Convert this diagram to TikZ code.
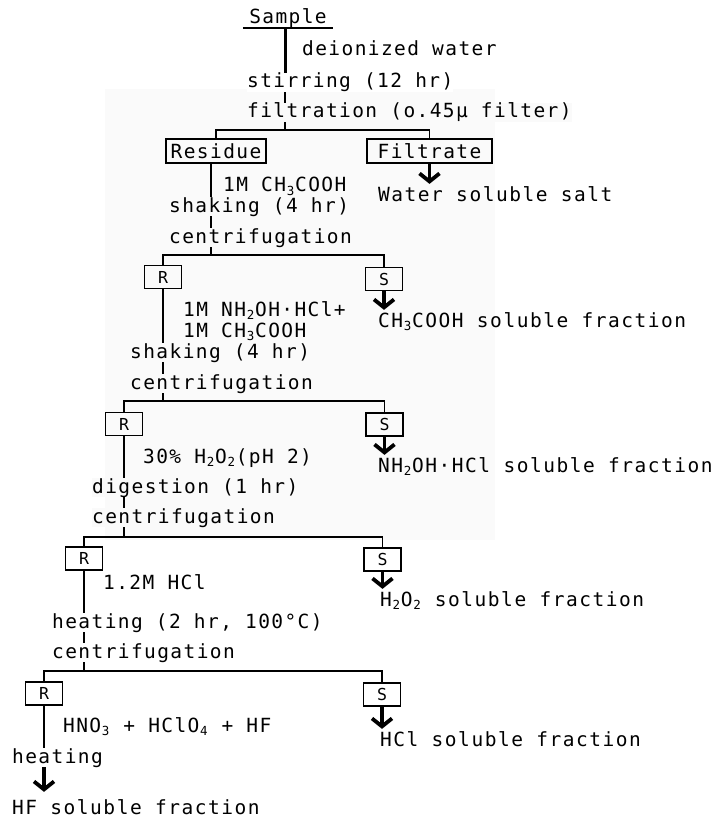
\documentclass[tikz,border=0pt]{standalone}
\usepackage{fontspec}
\usetikzlibrary{arrows.meta}
\newfontfamily\monoA{DejaVu Sans Mono}[LetterSpace=7.2]
\newfontfamily\monoB{DejaVu Sans Mono}[LetterSpace=7.8]
\definecolor{bgg}{gray}{0.982}
\newcommand\sbs[1]{\makebox[9pt][c]{\raisebox{-3.5pt}{\fontsize{12.5}{12.5}\selectfont #1}}}
\newcommand\ftA{\monoA\fontsize{19.5}{21}\selectfont}
\newcommand\ftB{\monoB\fontsize{19.5}{21}\selectfont}
\newcommand\ftS{\monoA\fontsize{16.5}{16.5}\selectfont}
\pgfdeclarelayer{back}
\pgfsetlayers{back,main}
\tikzset{
  ln/.style={line width=1.7pt},
  tn/.style={anchor=base west, inner sep=0pt, font=\ftA},
  tw/.style={tn, fill=white},
  tg/.style={tn, fill=bgg},
  tr/.style={anchor=base west, inner sep=0pt, font=\ftB},
  bbox/.style={draw, line width=1.7pt, minimum height=24pt, inner sep=0pt, font=\ftA},
  sbox/.style={draw, line width=1.7pt, minimum width=37pt, minimum height=23pt, inner sep=0pt, font=\ftS},
  bigarr/.style={line width=3.8pt, shorten >=2pt, -{Straight Barb[length=8pt,width=20pt,line width=3.8pt]}}
}
\begin{document}
\begin{tikzpicture}[x=1pt,y=-1pt]
\useasboundingbox (0,0) rectangle (715,821);
% ---- texts and boxes
\node[tn, minimum width=90pt, anchor=base] (sample) at (288,24) {Sample};
\node[tn] (deion) at (302,56) {deionized water};
\node[tw] (stir) at (247,88) {stirring (12 hr)};
\node[tg] (filt) at (247,118) {filtration (o.45μ filter)};
\node[bbox, minimum width=100pt] (res) at (216,151) {Residue};
\node[bbox, minimum width=125pt] (fil) at (429.5,151) {Filtrate};
\node[tr] (water) at (378,201) {Water soluble salt};
\node[tn] (ch1) at (223,192) {1M CH\sbs{3}COOH};
\node[tg] (shak1) at (169,212) {shaking (4 hr)};
\node[tg] (cen1) at (169,243) {centrifugation};
\node[sbox] (r2) at (163,277) {R};
\node[sbox] (s2) at (384,279) {S};
\node[tn] (nh) at (183,316) {1M NH\sbs{2}OH·HCl+};
\node[tn] (ch2) at (183,337) {1M CH\sbs{3}COOH};
\node[tr] (f2) at (378,327) {CH\sbs{3}COOH soluble fraction};
\node[tg] (shak2) at (130,358) {shaking (4 hr)};
\node[tg] (cen2) at (130,389) {centrifugation};
\node[sbox] (r3) at (124,424) {R};
\node[sbox] (s3) at (384.5,424.5) {S};
\node[tn] (hp) at (143,463) {30\% H\sbs{2}O\sbs{2}(pH 2)};
\node[tr] (f3) at (378,472) {NH\sbs{2}OH·HCl soluble fraction};
\node[tg] (dig) at (92,493) {digestion (1 hr)};
\node[tg] (cen3) at (92,523) {centrifugation};
\node[sbox] (r4) at (84,558.5) {R};
\node[sbox] (s4) at (382.5,559.5) {S};
\node[tn] (hcl) at (103,589) {1.2M HCl};
\node[tr] (f4) at (380,606) {H\sbs{2}O\sbs{2} soluble fraction};
\node[tw] (heat2) at (52,628) {heating (2 hr, 100°C)};
\node[tw] (cen4) at (52,658) {centrifugation};
\node[sbox] (r5) at (44,693.5) {R};
\node[sbox] (s5) at (382,694.5) {S};
\node[tn] (acid) at (63,732) {HNO\sbs{3} + HClO\sbs{4} + HF};
\node[tr] (f5) at (380,746) {HCl soluble fraction};
\node[tw] (heat3) at (12,763) {heating};
\node[tr] (hf) at (12,814) {HF soluble fraction};
% ---- branch points
\coordinate (b1) at (285,130);
\coordinate (b2) at (211,255);
\coordinate (b3) at (163,401);
\coordinate (b4) at (124,537);
\coordinate (b5) at (84,671);
% ---- connectors behind the texts
\begin{pgfonlayer}{back}
\fill[white] (0,0) rectangle (715,821);
\fill[bgg] (105,89) rectangle (495,540);
\draw[ln] (sample.south west) -- (sample.south east);
\draw[line width=3pt] (sample.south -| b1) -- (stir.north -| b1);
\draw[ln] (stir.north -| b1) -- (b1);
\draw[ln] (res.north) |- (b1) -| (fil.north);
\draw[bigarr] (fil.south) -- (fil.south |- water.north);
\draw[ln] (res.south -| b2) -- (b2);
\draw[ln] (r2.north) |- (b2) -| (s2.north);
\draw[bigarr] (s2.south) -- (s2.south |- f2.north);
\draw[ln] (r2.south) -- (b3);
\draw[ln] (r3.north) |- (b3) -| (s3.north);
\draw[bigarr] (s3.south) -- (s3.south |- f3.north);
\draw[ln] (r3.south) -- (b4);
\draw[ln] (r4.north) |- (b4) -| (s4.north);
\draw[bigarr] (s4.south) -- (s4.south |- f4.north);
\draw[ln] (r4.south) -- (b5);
\draw[ln] (r5.north) |- (b5) -| (s5.north);
\draw[bigarr] (s5.south) -- (s5.south |- f5.north);
\draw[ln] (r5.south) -- (r5.south |- heat3.center);
\draw[bigarr, shorten >=7pt] (heat3.south -| r5.south) -- (r5.south |- hf.north);
\end{pgfonlayer}
\end{tikzpicture}
\end{document}
